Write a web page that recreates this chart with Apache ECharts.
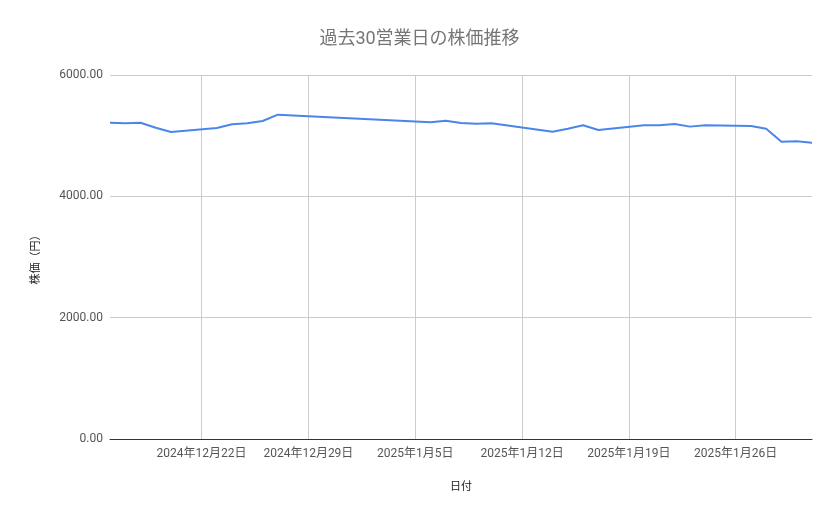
<!DOCTYPE html>
<html>
<head>
<meta charset="utf-8">
<script src="https://cdn.jsdelivr.net/npm/echarts@6/dist/echarts.min.js"></script>
<style>html,body{margin:0;padding:0;background:#fff}#c{width:839px;height:519px}</style>
</head>
<body>
<div id="c"></div>
<script>
const dates = [
  '2024-12-16','2024-12-17','2024-12-18','2024-12-19','2024-12-20',
  '2024-12-23','2024-12-24','2024-12-25','2024-12-26','2024-12-27',
  '2025-01-06','2025-01-07','2025-01-08','2025-01-09','2025-01-10',
  '2025-01-14','2025-01-15','2025-01-16','2025-01-17',
  '2025-01-20','2025-01-21','2025-01-22','2025-01-23','2025-01-24',
  '2025-01-27','2025-01-28','2025-01-29','2025-01-30','2025-01-31'
];
const prices = [
  5214, 5204, 5214, 5130, 5061,
  5127, 5187, 5204, 5242, 5346,
  5220, 5247, 5209, 5198, 5204,
  5066, 5115, 5171, 5094,
  5171, 5171, 5192, 5149, 5171,
  5160, 5115, 4901, 4907, 4885
];
const tickDates = ['2024-12-22','2024-12-29','2025-01-05','2025-01-12','2025-01-19','2025-01-26'];
const xRange = ['2024-12-16','2025-01-31'];
const yTicks = [0, 2000, 4000, 6000];

const DAY = 86400000;
// day number (UTC days since epoch) for each date string
function dn(s){ const p = s.split('-').map(Number); return Date.UTC(p[0], p[1]-1, p[2]) / DAY; }
function fmt(v){ const d = new Date(v * DAY); return d.getUTCFullYear()+'年'+(d.getUTCMonth()+1)+'月'+d.getUTCDate()+'日'; }
const tickDn = tickDates.map(dn);

const chart = echarts.init(document.getElementById('c'));
chart.setOption({
  animation: false,
  title: {
    text: '過去30営業日の株価推移',
    left: 'center', top: 26,
    textStyle: { color: '#757575', fontSize: 18, fontWeight: 'normal', fontFamily: 'Roboto, "Noto Sans CJK JP"' }
  },
  grid: { left: 110, right: 27, top: 75, bottom: 80 },
  xAxis: {
    type: 'value',
    min: dn(xRange[0]), max: dn(xRange[1]),
    name: '日付', nameLocation: 'middle', nameGap: 43,
    nameTextStyle: { color: '#222', fontSize: 11, fontFamily: 'Roboto, "Noto Sans CJK JP"' },
    axisLine: { show: true, onZero: false, lineStyle: { color: '#333', width: 1 } },
    axisTick: { show: false, customValues: tickDn },
    axisLabel: {
      customValues: tickDn,
      color: '#555', fontSize: 12, margin: 9,
      fontFamily: 'Roboto, "Noto Sans CJK JP"',
      formatter: fmt
    },
    splitLine: { show: true, lineStyle: { color: '#cccccc', width: 1 } }
  },
  yAxis: {
    type: 'value', min: yTicks[0], max: yTicks[yTicks.length-1], interval: 2000,
    name: '株価（円）', nameLocation: 'middle', nameGap: 68, nameRotate: 90,
    nameTextStyle: { color: '#222', fontSize: 11, fontFamily: 'Roboto, "Noto Sans CJK JP"' },
    axisLine: { show: false }, axisTick: { show: false },
    axisLabel: { color: '#555', fontSize: 12, margin: 7, fontFamily: 'Roboto, "Noto Sans CJK JP"',
      formatter: function(v){ return v.toFixed(2); } },
    splitLine: { lineStyle: { color: '#cccccc', width: 1 } }
  },
  series: [{
    type: 'line',
    data: dates.map((d,i) => [dn(d), prices[i]]),
    showSymbol: false, symbol: 'none',
    lineStyle: { color: '#4a86e8', width: 2 },
    itemStyle: { color: '#4a86e8' }
  }]
});
</script>
</body>
</html>
